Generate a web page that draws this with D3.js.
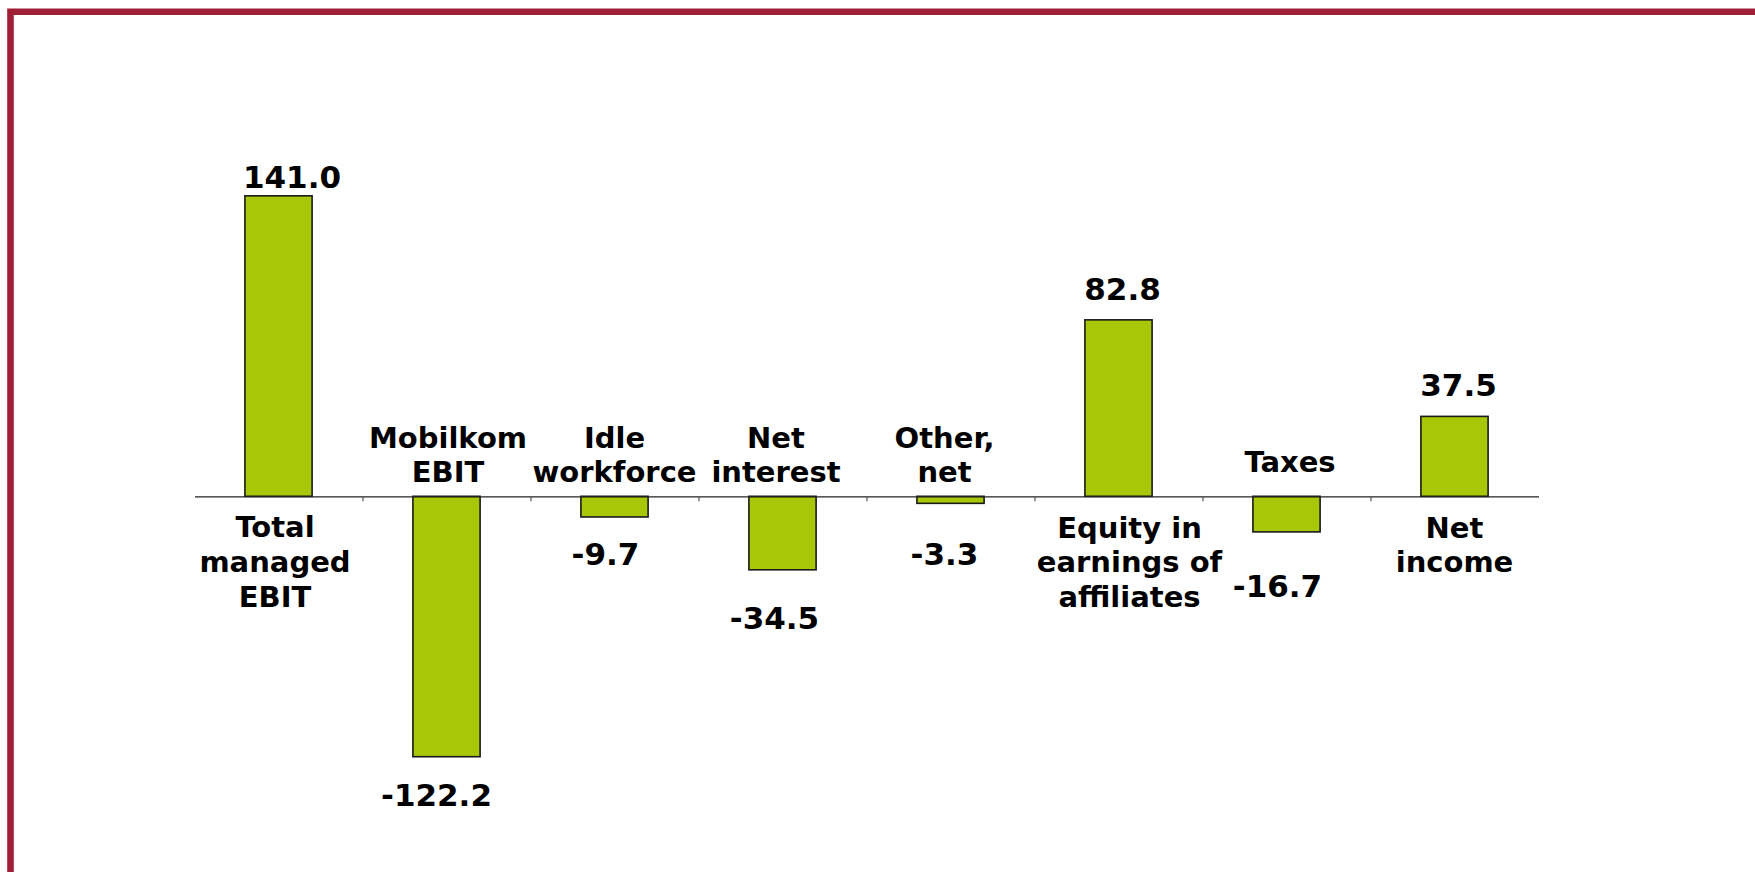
<!DOCTYPE html>
<html>
<head>
<meta charset="utf-8">
<script src="https://cdn.jsdelivr.net/npm/d3@7/dist/d3.min.js"></script>
<style>
  html, body { margin: 0; padding: 0; background: #ffffff; }
  svg { display: block; }
  text { font-family: "DejaVu Sans", Verdana, sans-serif; font-weight: bold; fill: #000; }
</style>
</head>
<body>
<script>
// ---- data ----
const categories = [
  ["Total", "managed", "EBIT"],
  ["Mobilkom", "EBIT"],
  ["Idle", "workforce"],
  ["Net", "interest"],
  ["Other,", "net"],
  ["Equity in", "earnings of", "affiliates"],
  ["Taxes"],
  ["Net", "income"]
];
const values = [141.0, -122.2, -9.7, -34.5, -3.3, 82.8, -16.7, 37.5];
const valueLabels = ["141.0", "-122.2", "-9.7", "-34.5", "-3.3", "82.8", "-16.7", "37.5"];

// ---- layout (label placement nudges, px) ----
const valueLabelOffset = [[13.5, -7.5], [-10, 49.5], [-9, 48], [-8, 59], [-6, 61.7], [4, -20], [-9, 65], [4, -20.4]];
const catLabelOffset = [[-3.5, 0], [1.5, 0], [0, 0], [-6.5, 0], [-6, 0], [11, 0.5], [3.5, -10], [0, 0.5]];

const W = 1755, H = 872;
const svg = d3.select("body").append("svg").attr("width", W).attr("height", H);

// frame (left + top border, continuing off the page)
svg.append("path")
  .attr("d", `M10.5,${H + 10} V11.7 H${W + 10}`)
  .attr("fill", "none")
  .attr("stroke", "#9f1f37")
  .attr("stroke-width", 6.6);

const x = d3.scaleBand()
  .domain(d3.range(values.length))
  .range([194.5, 1538.5])
  .paddingInner(0.6)
  .paddingOuter(0.3);

const y = d3.scaleLinear()
  .domain([-160, 200])
  .range([496.3 + 2.131 * 160, 496.3 - 2.131 * 200]);

const y0 = y(0);

// bars
svg.append("g").selectAll("rect")
  .data(values)
  .join("rect")
  .attr("x", (d, i) => x(i))
  .attr("width", x.bandwidth())
  .attr("y", d => Math.min(y(d), y0))
  .attr("height", d => Math.abs(y(d) - y0))
  .attr("fill", "#a7c707")
  .attr("stroke", "#1a1a1a")
  .attr("stroke-width", 1.6);

// category axis (line + small ticks between categories)
const step = x.step();
const axisStart = x(0) - x.paddingOuter() * step - (step - x.bandwidth()) / 2 + (step - x.bandwidth()) / 2;
const axis = d3.axisBottom(
    d3.scaleLinear().domain([0, values.length]).range([x(0) - x.paddingOuter() * step, x(0) - x.paddingOuter() * step + values.length * step])
  )
  .tickValues(d3.range(1, values.length))
  .tickSize(5)
  .tickSizeOuter(0)
  .tickFormat("");
const ax = svg.append("g").attr("transform", `translate(0,${y0})`).call(axis);
ax.select(".domain").attr("stroke", "#222").attr("stroke-width", 1.3);
ax.selectAll(".tick line").attr("stroke", "#555").attr("stroke-width", 1.2);

// category labels
const lineH = 34.6;
const catG = svg.append("g");
categories.forEach((lines, i) => {
  const cx = x(i) + x.bandwidth() / 2 + catLabelOffset[i][0];
  const neg = values[i] < 0;
  const firstBase = neg ? (y0 - 14 - (lines.length - 1) * lineH) : (y0 + 41);
  const t = catG.append("text")
    .attr("text-anchor", "middle")
    .attr("font-size", 29)
    .attr("x", cx)
    .attr("y", firstBase + catLabelOffset[i][1]);
  lines.forEach((ln, k) => {
    t.append("tspan").attr("x", cx).attr("dy", k === 0 ? 0 : lineH).text(ln);
  });
});

// value labels
svg.append("g").selectAll("text")
  .data(values)
  .join("text")
  .attr("text-anchor", "middle")
  .attr("font-size", 31)
  .attr("x", (d, i) => x(i) + x.bandwidth() / 2 + valueLabelOffset[i][0])
  .attr("y", (d, i) => y(d) + valueLabelOffset[i][1])
  .text((d, i) => valueLabels[i]);
</script>
</body>
</html>
